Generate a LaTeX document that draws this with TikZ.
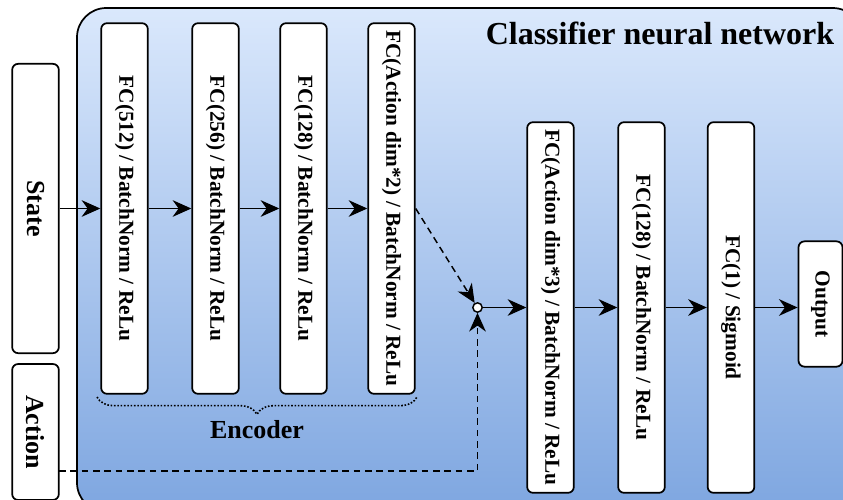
\documentclass[tikz,border=0pt]{standalone}
\usepackage{fontspec}
\setmainfont{Liberation Serif}
\usetikzlibrary{arrows.meta,decorations.pathreplacing}
\definecolor{nettop}{HTML}{DAE8FC}
\definecolor{netbot}{HTML}{7EA6E0}

\begin{document}
\begin{tikzpicture}[x=0.75pt, y=-0.75pt,
    box/.style={draw, line width=1.3pt, fill=white, rounded corners=4.5pt, inner sep=0pt, minimum width=35pt},
    layer/.style={box, minimum height=278pt, font=\fontsize{16}{18}\selectfont\bfseries},
    io/.style={box, font=\fontsize{19.5}{22}\selectfont\bfseries},
    flow/.style={-{Stealth[length=14pt,width=12.5pt,inset=4.5pt]}, line width=1.1pt},
    skip/.style={flow, dash pattern=on 5pt off 3.5pt}]
        \clip (0,0) rectangle (843,500);

        \fill[top color=nettop, bottom color=netbot, rounded corners=22pt] (77,8) rectangle (862,512);
        \draw[line width=1.3pt, rounded corners=22pt] (77,8) rectangle (862,512);
        \node[font=\fontsize{24}{28}\selectfont\bfseries] (title) at (660,33) {Classifier neural network};

        \node[io, minimum height=217pt] (state) at (35.5,208.5) {\rotatebox{-90}{State}};
        \node[io, minimum height=102pt] (action) at (35.5,432) {\rotatebox{-90}{Action}};

        \node[layer] (fc1) at (124.5,208.5) {\rotatebox{-90}{FC(512) / BatchNorm / ReLu}};
        \node[layer] (fc2) at (215.5,208.5) {\rotatebox{-90}{FC(256) / BatchNorm / ReLu}};
        \node[layer] (fc3) at (303.5,208.5) {\rotatebox{-90}{FC(128) / BatchNorm / ReLu}};
        \node[layer] (fc4) at (391.5,208.5) {\rotatebox{-90}{FC(Action dim*2) / BatchNorm / ReLu}};

        \node[layer] (fc5) at (550.5,307.5) {\rotatebox{-90}{FC(Action dim*3) / BatchNorm / ReLu}};
        \node[layer] (fc6) at (641.5,307.5) {\rotatebox{-90}{FC(128) / BatchNorm / ReLu}};
        \node[layer] (fc7) at (731,307.5) {\rotatebox{-90}{FC(1) / Sigmoid}};
        \node[box, minimum width=33pt, minimum height=94pt, font=\fontsize{16}{18}\selectfont\bfseries] (out) at (820.5,304) {\rotatebox{-90}{Output}};

        \node[circle, draw, line width=1.1pt, fill=white, inner sep=0pt, minimum size=7pt] (join) at (477.5,307.5) {};
        \coordinate (actout) at (59,471);

        \draw[flow] (state) -- (fc1);
        \draw[flow] (fc1) -- (fc2);
        \draw[flow] (fc2) -- (fc3);
        \draw[flow] (fc3) -- (fc4);
        \draw[skip] (fc4.east) -- (join);
        \draw[skip] (actout) -| (join);
        \draw[flow] (join) -- (fc5);
        \draw[flow] (fc5) -- (fc6);
        \draw[flow] (fc6) -- (fc7);
        \draw[flow] (fc7) -- (fc7 -| out.west);

        \coordinate (encl) at (97,397);
        \coordinate (encr) at (417,397);
        \draw[line width=1.2pt, dash pattern=on 1.2pt off 1.3pt, decorate, decoration={brace, mirror, amplitude=13pt}] (encl) -- (encr);
        \node[font=\fontsize{19.5}{22}\selectfont\bfseries] (enc) at (257,430) {Encoder};
      \end{tikzpicture}
\end{document}
